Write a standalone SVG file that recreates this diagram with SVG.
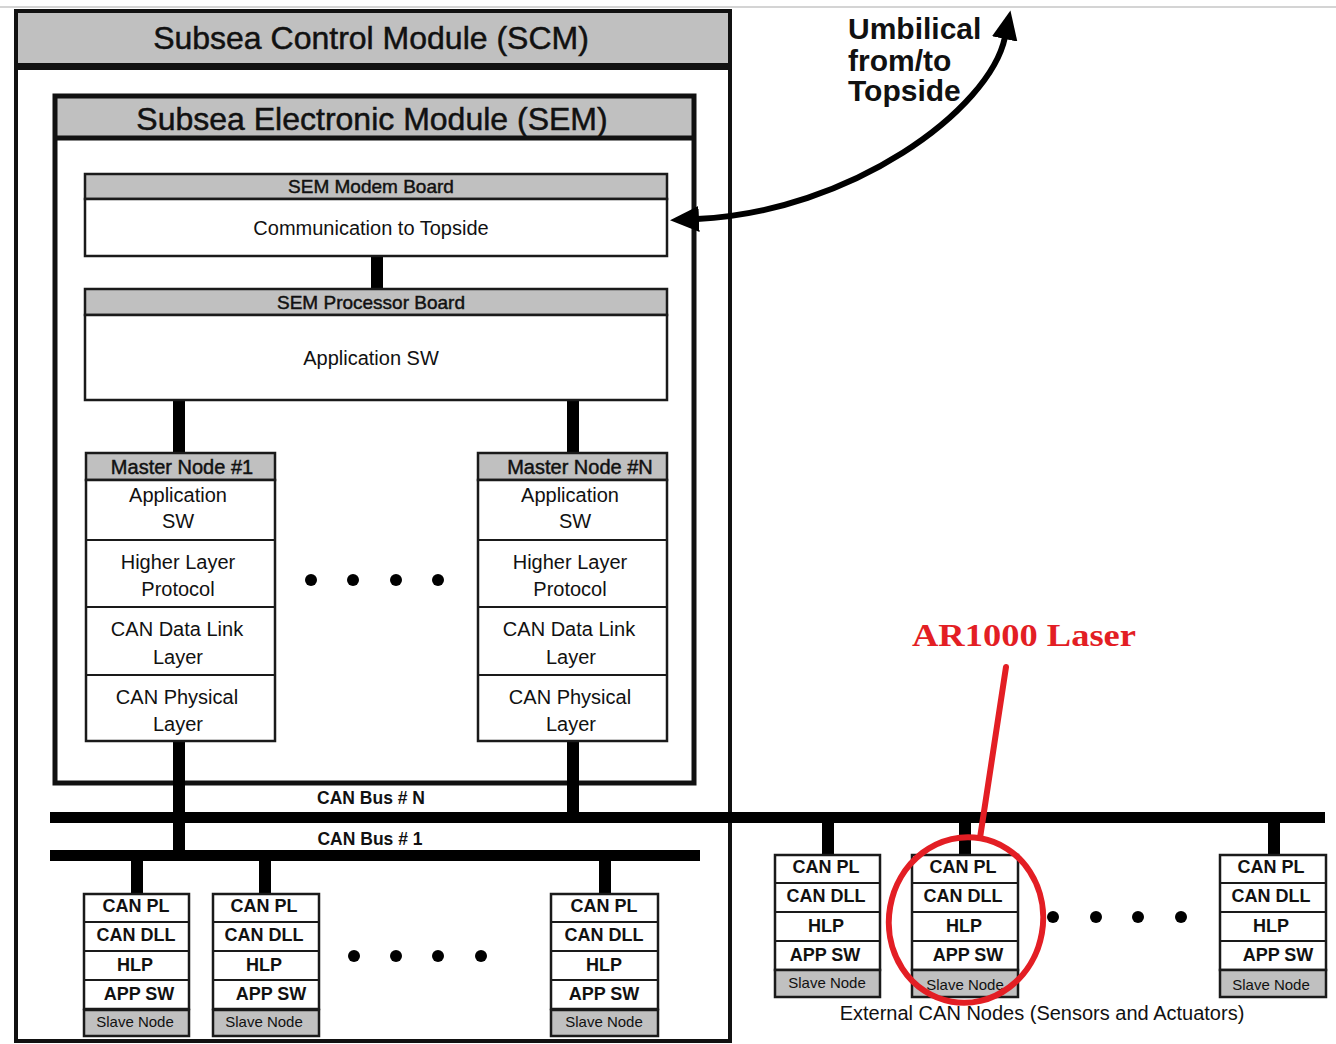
<svg xmlns="http://www.w3.org/2000/svg" width="1336" height="1044" viewBox="0 0 1336 1044">
<style>
text{font-family:"Liberation Sans",Arial,sans-serif;fill:#111;text-anchor:middle}
.title{font-size:32px;stroke:#111;stroke-width:0.5}
.hdr{font-size:19px;stroke:#111;stroke-width:0.45}
.body{font-size:20px}
.mh{font-size:20px;stroke:#111;stroke-width:0.45}
.sl{font-size:18px;font-weight:bold}
.sn{font-size:15px}
.bus{font-size:17.5px;font-weight:bold}
.umb{font-size:30px;font-weight:bold;text-anchor:start}
.gray{fill:#c0c0c0;stroke:#1a1a1a;stroke-width:2.5}
.box{fill:#fff;stroke:#1a1a1a;stroke-width:2.5}
.div{stroke:#1a1a1a;stroke-width:2}
.wire{stroke:#000;stroke-width:12}
.busline{stroke:#000;stroke-width:11}
.red{stroke:#e31e24;stroke-width:6;fill:none;stroke-linecap:round}
</style>
<defs>
<marker id="ah" viewBox="0 0 30 26" refX="2" refY="13" markerWidth="30" markerHeight="26" markerUnits="userSpaceOnUse" orient="auto-start-reverse">
<path d="M0,0 L29,13 L0,26 Z" fill="#000"/>
</marker>
</defs>
<rect width="1336" height="1044" fill="#fff"/>
<line x1="0" y1="7" x2="1336" y2="7" stroke="#d4d4d4" stroke-width="2"/>

<g id="scm">
<rect x="16" y="11" width="714" height="53" fill="#c0c0c0"/>
<rect x="16" y="11" width="714" height="1030" fill="none" stroke="#111" stroke-width="4"/>
<line x1="16" y1="66.5" x2="730" y2="66.5" stroke="#111" stroke-width="7"/>
<text class="title" x="371" y="49">Subsea Control Module (SCM)</text>
</g>

<g id="sem">
<rect x="55" y="96" width="639" height="41" fill="#c0c0c0"/>
<rect x="55" y="96" width="639" height="687" fill="none" stroke="#111" stroke-width="5"/>
<line x1="55" y1="138" x2="694" y2="138" stroke="#111" stroke-width="5"/>
<text class="title" x="372" y="130">Subsea Electronic Module (SEM)</text>
</g>

<g id="connectors">
<line class="wire" x1="377" y1="256" x2="377" y2="289"/>
<line class="wire" x1="179" y1="400" x2="179" y2="453"/>
<line class="wire" x1="573" y1="400" x2="573" y2="453"/>
<line class="wire" x1="179" y1="741" x2="179" y2="855"/>
<line class="wire" x1="573" y1="741" x2="573" y2="817"/>
<line class="busline" x1="50" y1="817.5" x2="1325" y2="817.5"/>
<line class="busline" x1="50" y1="855.5" x2="700" y2="855.5"/>
<line class="wire" x1="137" y1="861" x2="137" y2="894"/>
<line class="wire" x1="265" y1="861" x2="265" y2="894"/>
<line class="wire" x1="605" y1="861" x2="605" y2="894"/>
<line class="wire" x1="828" y1="823" x2="828" y2="855"/>
<line class="wire" x1="965" y1="823" x2="965" y2="855"/>
<line class="wire" x1="1274" y1="823" x2="1274" y2="855"/>
<path d="M697,219 C850,212 990,110 1005,37" fill="none" stroke="#000" stroke-width="6" marker-start="url(#ah)" marker-end="url(#ah)"/>
<text class="bus" x="371" y="804">CAN Bus # N</text>
<text class="bus" x="370" y="845">CAN Bus # 1</text>
</g>

<g id="modem-board">
<rect class="gray" x="85" y="174" width="582" height="25"/>
<rect class="box" x="85" y="199" width="582" height="57"/>
<text class="hdr" x="371" y="193">SEM Modem Board</text>
<text class="body" x="371" y="235">Communication to Topside</text>
</g>

<g id="processor-board">
<rect class="gray" x="85" y="289" width="582" height="26"/>
<rect class="box" x="85" y="315" width="582" height="85"/>
<text class="hdr" x="371" y="309">SEM Processor Board</text>
<text class="body" x="371" y="365">Application SW</text>
</g>

<g id="master-1">
<rect class="gray" x="86" y="453" width="189" height="27"/>
<rect class="box" x="86" y="480" width="189" height="261"/>
<line class="div" x1="86" y1="540" x2="275" y2="540"/>
<line class="div" x1="86" y1="607" x2="275" y2="607"/>
<line class="div" x1="86" y1="675" x2="275" y2="675"/>
<text class="mh" x="182" y="474">Master Node #1</text>
<text class="body" x="178" y="502">Application</text>
<text class="body" x="178" y="528">SW</text>
<text class="body" x="178" y="569">Higher Layer</text>
<text class="body" x="178" y="596">Protocol</text>
<text class="body" x="177" y="636">CAN Data Link</text>
<text class="body" x="178" y="664">Layer</text>
<text class="body" x="177" y="704">CAN Physical</text>
<text class="body" x="178" y="731">Layer</text>
</g>

<g id="master-n">
<rect class="gray" x="478" y="453" width="189" height="27"/>
<rect class="box" x="478" y="480" width="189" height="261"/>
<line class="div" x1="478" y1="540" x2="667" y2="540"/>
<line class="div" x1="478" y1="607" x2="667" y2="607"/>
<line class="div" x1="478" y1="675" x2="667" y2="675"/>
<text class="mh" x="580" y="474">Master Node #N</text>
<text class="body" x="570" y="502">Application</text>
<text class="body" x="575" y="528">SW</text>
<text class="body" x="570" y="569">Higher Layer</text>
<text class="body" x="570" y="596">Protocol</text>
<text class="body" x="569" y="636">CAN Data Link</text>
<text class="body" x="571" y="664">Layer</text>
<text class="body" x="570" y="704">CAN Physical</text>
<text class="body" x="571" y="731">Layer</text>
</g>

<g id="ellipses" fill="#000">
<circle cx="311" cy="580" r="6"/><circle cx="353" cy="580" r="6"/><circle cx="396" cy="580" r="6"/><circle cx="438" cy="580" r="6"/>
<circle cx="354" cy="956" r="6"/><circle cx="396" cy="956" r="6"/><circle cx="438" cy="956" r="6"/><circle cx="481" cy="956" r="6"/>
<circle cx="1053" cy="917" r="6"/><circle cx="1096" cy="917" r="6"/><circle cx="1138" cy="917" r="6"/><circle cx="1181" cy="917" r="6"/>
</g>

<g id="slave-1">
<rect class="box" x="84" y="894" width="105" height="115"/>
<line class="div" x1="84" y1="922" x2="189" y2="922"/>
<line class="div" x1="84" y1="951" x2="189" y2="951"/>
<line class="div" x1="84" y1="980" x2="189" y2="980"/>
<rect class="gray" x="84" y="1010" width="105" height="26"/>
<text class="sl" x="136" y="912">CAN PL</text>
<text class="sl" x="136" y="941">CAN DLL</text>
<text class="sl" x="135" y="971">HLP</text>
<text class="sl" x="139" y="1000">APP SW</text>
<text class="sn" x="135" y="1027">Slave Node</text>
</g>

<g id="slave-2">
<rect class="box" x="213" y="894" width="106" height="115"/>
<line class="div" x1="213" y1="922" x2="319" y2="922"/>
<line class="div" x1="213" y1="951" x2="319" y2="951"/>
<line class="div" x1="213" y1="980" x2="319" y2="980"/>
<rect class="gray" x="213" y="1010" width="106" height="26"/>
<text class="sl" x="264" y="912">CAN PL</text>
<text class="sl" x="264" y="941">CAN DLL</text>
<text class="sl" x="264" y="971">HLP</text>
<text class="sl" x="271" y="1000">APP SW</text>
<text class="sn" x="264" y="1027">Slave Node</text>
</g>

<g id="slave-3">
<rect class="box" x="551" y="894" width="107" height="115"/>
<line class="div" x1="551" y1="922" x2="658" y2="922"/>
<line class="div" x1="551" y1="951" x2="658" y2="951"/>
<line class="div" x1="551" y1="980" x2="658" y2="980"/>
<rect class="gray" x="551" y="1010" width="107" height="26"/>
<text class="sl" x="604" y="912">CAN PL</text>
<text class="sl" x="604" y="941">CAN DLL</text>
<text class="sl" x="604" y="971">HLP</text>
<text class="sl" x="604" y="1000">APP SW</text>
<text class="sn" x="604" y="1027">Slave Node</text>
</g>

<g id="ext-slave-1">
<rect class="box" x="775" y="855" width="105" height="115"/>
<line class="div" x1="775" y1="883" x2="880" y2="883"/>
<line class="div" x1="775" y1="912" x2="880" y2="912"/>
<line class="div" x1="775" y1="941" x2="880" y2="941"/>
<rect class="gray" x="775" y="970" width="105" height="27"/>
<text class="sl" x="826" y="873">CAN PL</text>
<text class="sl" x="826" y="902">CAN DLL</text>
<text class="sl" x="826" y="932">HLP</text>
<text class="sl" x="825" y="961">APP SW</text>
<text class="sn" x="827" y="988">Slave Node</text>
</g>

<g id="ext-slave-2">
<rect class="box" x="912" y="855" width="106" height="115"/>
<line class="div" x1="912" y1="883" x2="1018" y2="883"/>
<line class="div" x1="912" y1="912" x2="1018" y2="912"/>
<line class="div" x1="912" y1="941" x2="1018" y2="941"/>
<rect class="gray" x="912" y="970" width="106" height="27"/>
<text class="sl" x="963" y="873">CAN PL</text>
<text class="sl" x="963" y="902">CAN DLL</text>
<text class="sl" x="964" y="932">HLP</text>
<text class="sl" x="968" y="961">APP SW</text>
<text class="sn" x="965" y="990">Slave Node</text>
</g>

<g id="ext-slave-3">
<rect class="box" x="1220" y="855" width="106" height="115"/>
<line class="div" x1="1220" y1="883" x2="1326" y2="883"/>
<line class="div" x1="1220" y1="912" x2="1326" y2="912"/>
<line class="div" x1="1220" y1="941" x2="1326" y2="941"/>
<rect class="gray" x="1220" y="970" width="106" height="27"/>
<text class="sl" x="1271" y="873">CAN PL</text>
<text class="sl" x="1271" y="902">CAN DLL</text>
<text class="sl" x="1271" y="932">HLP</text>
<text class="sl" x="1278" y="961">APP SW</text>
<text class="sn" x="1271" y="990">Slave Node</text>
</g>

<g id="external-label">
<text class="body" x="1042" y="1020">External CAN Nodes (Sensors and Actuators)</text>
</g>

<g id="umbilical-label">
<text class="umb" x="848" y="39">Umbilical</text>
<text class="umb" x="848" y="71">from/to</text>
<text class="umb" x="848" y="101">Topside</text>
</g>

<g id="ar1000-callout">
<ellipse class="red" cx="966" cy="920" rx="77" ry="83" transform="rotate(10 966 920)"/>
<line class="red" x1="1006" y1="667" x2="980" y2="838"/>
<text x="1024" y="646" style="font-family:'Liberation Serif','Times New Roman',serif;font-weight:bold;font-size:31px;fill:#e31e24" textLength="224" lengthAdjust="spacingAndGlyphs">AR1000 Laser</text>
</g>
</svg>
